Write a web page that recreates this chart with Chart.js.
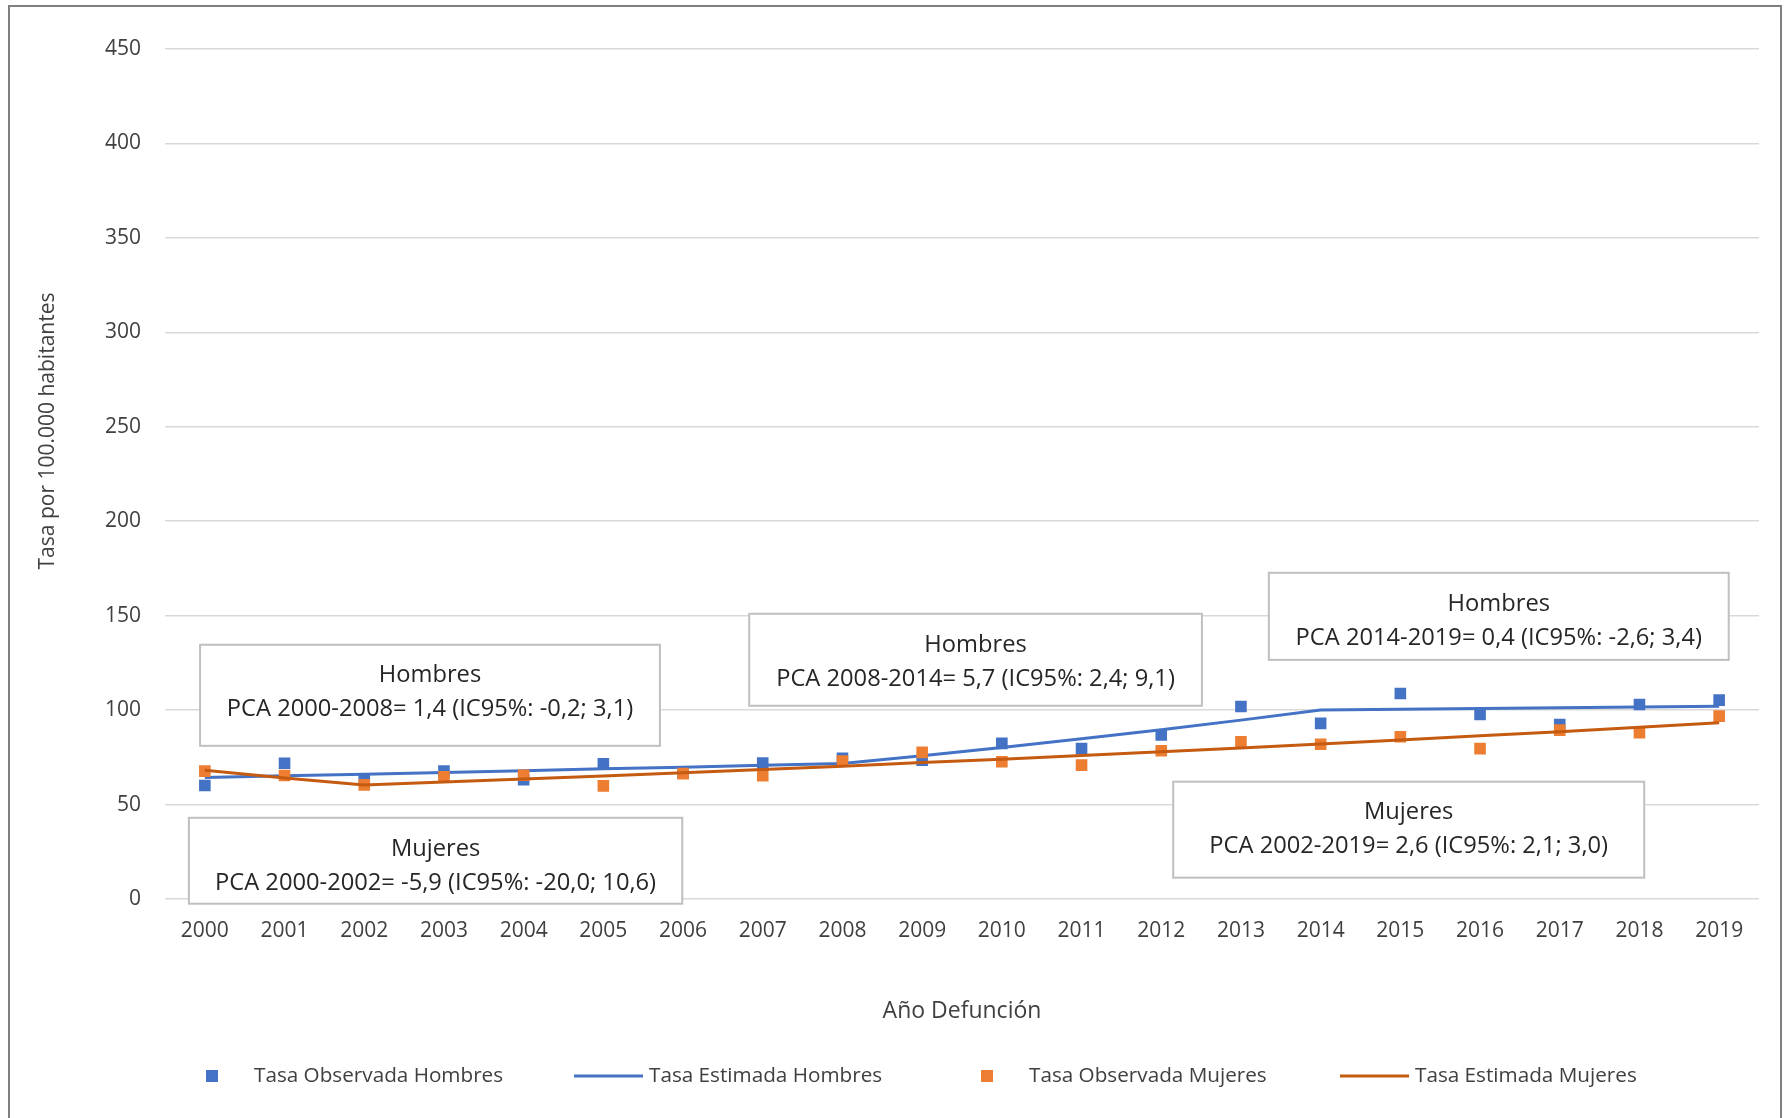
<!DOCTYPE html>
<html lang="es">
<head>
<meta charset="utf-8">
<title>Tasa por 100.000 habitantes</title>
<script src="https://cdn.jsdelivr.net/npm/chart.js@4.4.1/dist/chart.umd.min.js"></script>
<style>
  html, body { margin: 0; padding: 0; background: #fff; }
  #chart { display: block; }
</style>
</head>
<body>
<canvas id="chart" width="1785" height="1118"></canvas>
<script>
// --- Data ---
const years = ['2000', '2001', '2002', '2003', '2004', '2005', '2006', '2007', '2008', '2009',
               '2010', '2011', '2012', '2013', '2014', '2015', '2016', '2017', '2018', '2019'];
const observedMen   = [60.1, 71.9, 63.6, 67.7, 63.1, 71.6, 66.8, 72.0, 74.5, 73.5,
                       82.4, 79.7, 86.8, 101.9, 93.0, 108.8, 97.7, 92.4, 103.0, 105.3];
const estimatedMen  = [64.3, 65.2, 66.1, 67.0, 67.9, 68.9, 69.8, 70.8, 71.8, 75.9,
                       80.2, 84.8, 89.6, 94.7, 100.1, 100.5, 100.9, 101.3, 101.7, 102.1];
const observedWomen = [67.7, 65.4, 60.4, 64.7, 65.5, 59.9, 66.4, 65.3, 73.0, 77.6,
                       72.7, 70.9, 78.5, 83.2, 81.9, 85.9, 79.6, 89.4, 88.0, 96.8];
const estimatedWomen = [68.1, 64.1, 60.3, 61.9, 63.5, 65.1, 66.8, 68.5, 70.3, 72.2,
                        74.0, 76.0, 77.9, 80.0, 82.0, 84.2, 86.4, 88.6, 90.9, 93.3];
const yMax = 450;
const yStep = 50;

const seriesNames = ['Tasa Observada Hombres', 'Tasa Estimada Hombres',
                     'Tasa Observada Mujeres', 'Tasa Estimada Mujeres'];

// text boxes, placed in axis units (category index, rate)
const notes = [
    { lines: ['Hombres', 'PCA 2000-2008= 1,4 (IC95%: -0,2; 3,1)'], x0: -0.06, x1: 5.71, y0: 134.6, y1: 81.1 },
    { lines: ['Mujeres', 'PCA 2000-2002= -5,9 (IC95%: -20,0; 10,6)'], x0: -0.20, x1: 5.99, y0: 43.0, y1: -2.5 },
    { lines: ['Hombres', 'PCA 2008-2014= 5,7 (IC95%: 2,4; 9,1)'], x0: 6.83, x1: 12.51, y0: 151.0, y1: 102.3 },
    { lines: ['Hombres', 'PCA 2014-2019= 0,4 (IC95%: -2,6; 3,4)'], x0: 13.35, x1: 19.12, y0: 172.7, y1: 126.6 },
    { lines: ['Mujeres', 'PCA 2002-2019= 2,6 (IC95%: 2,1; 3,0)'], x0: 12.15, x1: 18.06, y0: 62.1, y1: 11.3 }
];

const BLUE = '#4472C4';
const ORANGE = '#ED7D31';
const DARK_ORANGE = '#C55A11';
const FONT = '"Open Sans", "DejaVu Sans", sans-serif';
const TEXT = '#404040';

// --- Boxes, frame, legend and y title ---
const decorations = {
    id: 'decorations',
    beforeDatasetsDraw(chart) {
        const { ctx, scales: { x, y } } = chart;
        const pxX = v => {
            const a = x.getPixelForValue(0), b = x.getPixelForValue(1);
            return a + (b - a) * v;
        };
        ctx.save();
        notes.forEach(n => {
            const left = pxX(n.x0), right = pxX(n.x1);
            const top = y.getPixelForValue(n.y0), bottom = y.getPixelForValue(n.y1);
            ctx.fillStyle = '#fff';
            ctx.fillRect(left, top, right - left, bottom - top);
            ctx.strokeStyle = '#bfbfbf';
            ctx.lineWidth = 2;
            ctx.strokeRect(left, top, right - left, bottom - top);
            ctx.fillStyle = '#262626';
            ctx.font = '23.7px ' + FONT;
            ctx.textAlign = 'center';
            ctx.textBaseline = 'middle';
            const cx = (left + right) / 2;
            ctx.fillText(n.lines[0], cx, top + 31);
            ctx.fillText(n.lines[1], cx, top + 65);
        });
        ctx.restore();
    },
    afterDraw(chart) {
        const { ctx, width, height } = chart;
        ctx.save();
        // outer frame
        ctx.strokeStyle = '#7f7f7f';
        ctx.lineWidth = 2;
        ctx.strokeRect(9, 6, width - 13, height + 10);

        // y axis title
        ctx.translate(48, 431);
        ctx.rotate(-Math.PI / 2);
        ctx.fillStyle = TEXT;
        ctx.font = '21px ' + FONT;
        ctx.textAlign = 'center';
        ctx.textBaseline = 'middle';
        ctx.fillText('Tasa por 100.000 habitantes', 0, 0);
        ctx.restore();

        // legend
        const ly = 1076;
        const items = [
            { kind: 'rect', color: BLUE, mark: 212, text: 254 },
            { kind: 'line', color: BLUE, mark: 574, text: 649 },
            { kind: 'rect', color: ORANGE, mark: 987, text: 1029 },
            { kind: 'line', color: DARK_ORANGE, mark: 1340, text: 1415 }
        ];
        ctx.save();
        ctx.font = '20.7px ' + FONT;
        ctx.textBaseline = 'middle';
        ctx.textAlign = 'left';
        items.forEach((it, i) => {
            if (it.kind === 'rect') {
                ctx.fillStyle = it.color;
                ctx.fillRect(it.mark - 6, ly - 6, 12, 12);
            } else {
                ctx.strokeStyle = it.color;
                ctx.lineWidth = 3;
                ctx.beginPath();
                ctx.moveTo(it.mark, ly);
                ctx.lineTo(it.mark + 69, ly);
                ctx.stroke();
            }
            ctx.fillStyle = TEXT;
            ctx.fillText(seriesNames[i], it.text, ly);
        });
        ctx.restore();
    }
};

const ctx = document.getElementById('chart').getContext('2d');
new Chart(ctx, {
    type: 'line',
    data: {
        labels: years,
        datasets: [
            { label: seriesNames[0], data: observedMen, showLine: false, pointStyle: 'rect',
              pointRadius: 8.2, pointBackgroundColor: BLUE, pointBorderWidth: 0, order: 4 },
            { label: seriesNames[1], data: estimatedMen, borderColor: BLUE, borderWidth: 3,
              pointRadius: 0, tension: 0, order: 3 },
            { label: seriesNames[2], data: observedWomen, showLine: false, pointStyle: 'rect',
              pointRadius: 8.2, pointBackgroundColor: ORANGE, pointBorderWidth: 0, order: 2 },
            { label: seriesNames[3], data: estimatedWomen, borderColor: DARK_ORANGE, borderWidth: 3,
              pointRadius: 0, tension: 0, order: 1 }
        ]
    },
    options: {
        responsive: false,
        animation: false,
        events: [],
        layout: { padding: { left: 10, right: 26, top: 49, bottom: 0 } },
        plugins: {
            legend: { display: false },
            tooltip: { enabled: false }
        },
        scales: {
            x: {
                offset: true,
                grid: { display: false, drawTicks: false },
                border: { display: false },
                ticks: { color: TEXT, font: { family: FONT, size: 21 }, padding: 19, maxRotation: 0 },
                title: {
                    display: true, text: 'Año Defunción', color: TEXT,
                    font: { family: FONT, size: 23 }, padding: { top: 0, bottom: 93 }
                },
                afterFit: s => { s.height = 219; }
            },
            y: {
                min: 0,
                max: yMax,
                grid: { color: '#d9d9d9', lineWidth: 1.5, drawTicks: false },
                border: { display: false },
                ticks: { stepSize: yStep, color: TEXT, font: { family: FONT, size: 21 }, padding: 24 },
                afterFit: s => { s.width = 155; }
            }
        }
    },
    plugins: [decorations]
});
</script>
</body>
</html>
